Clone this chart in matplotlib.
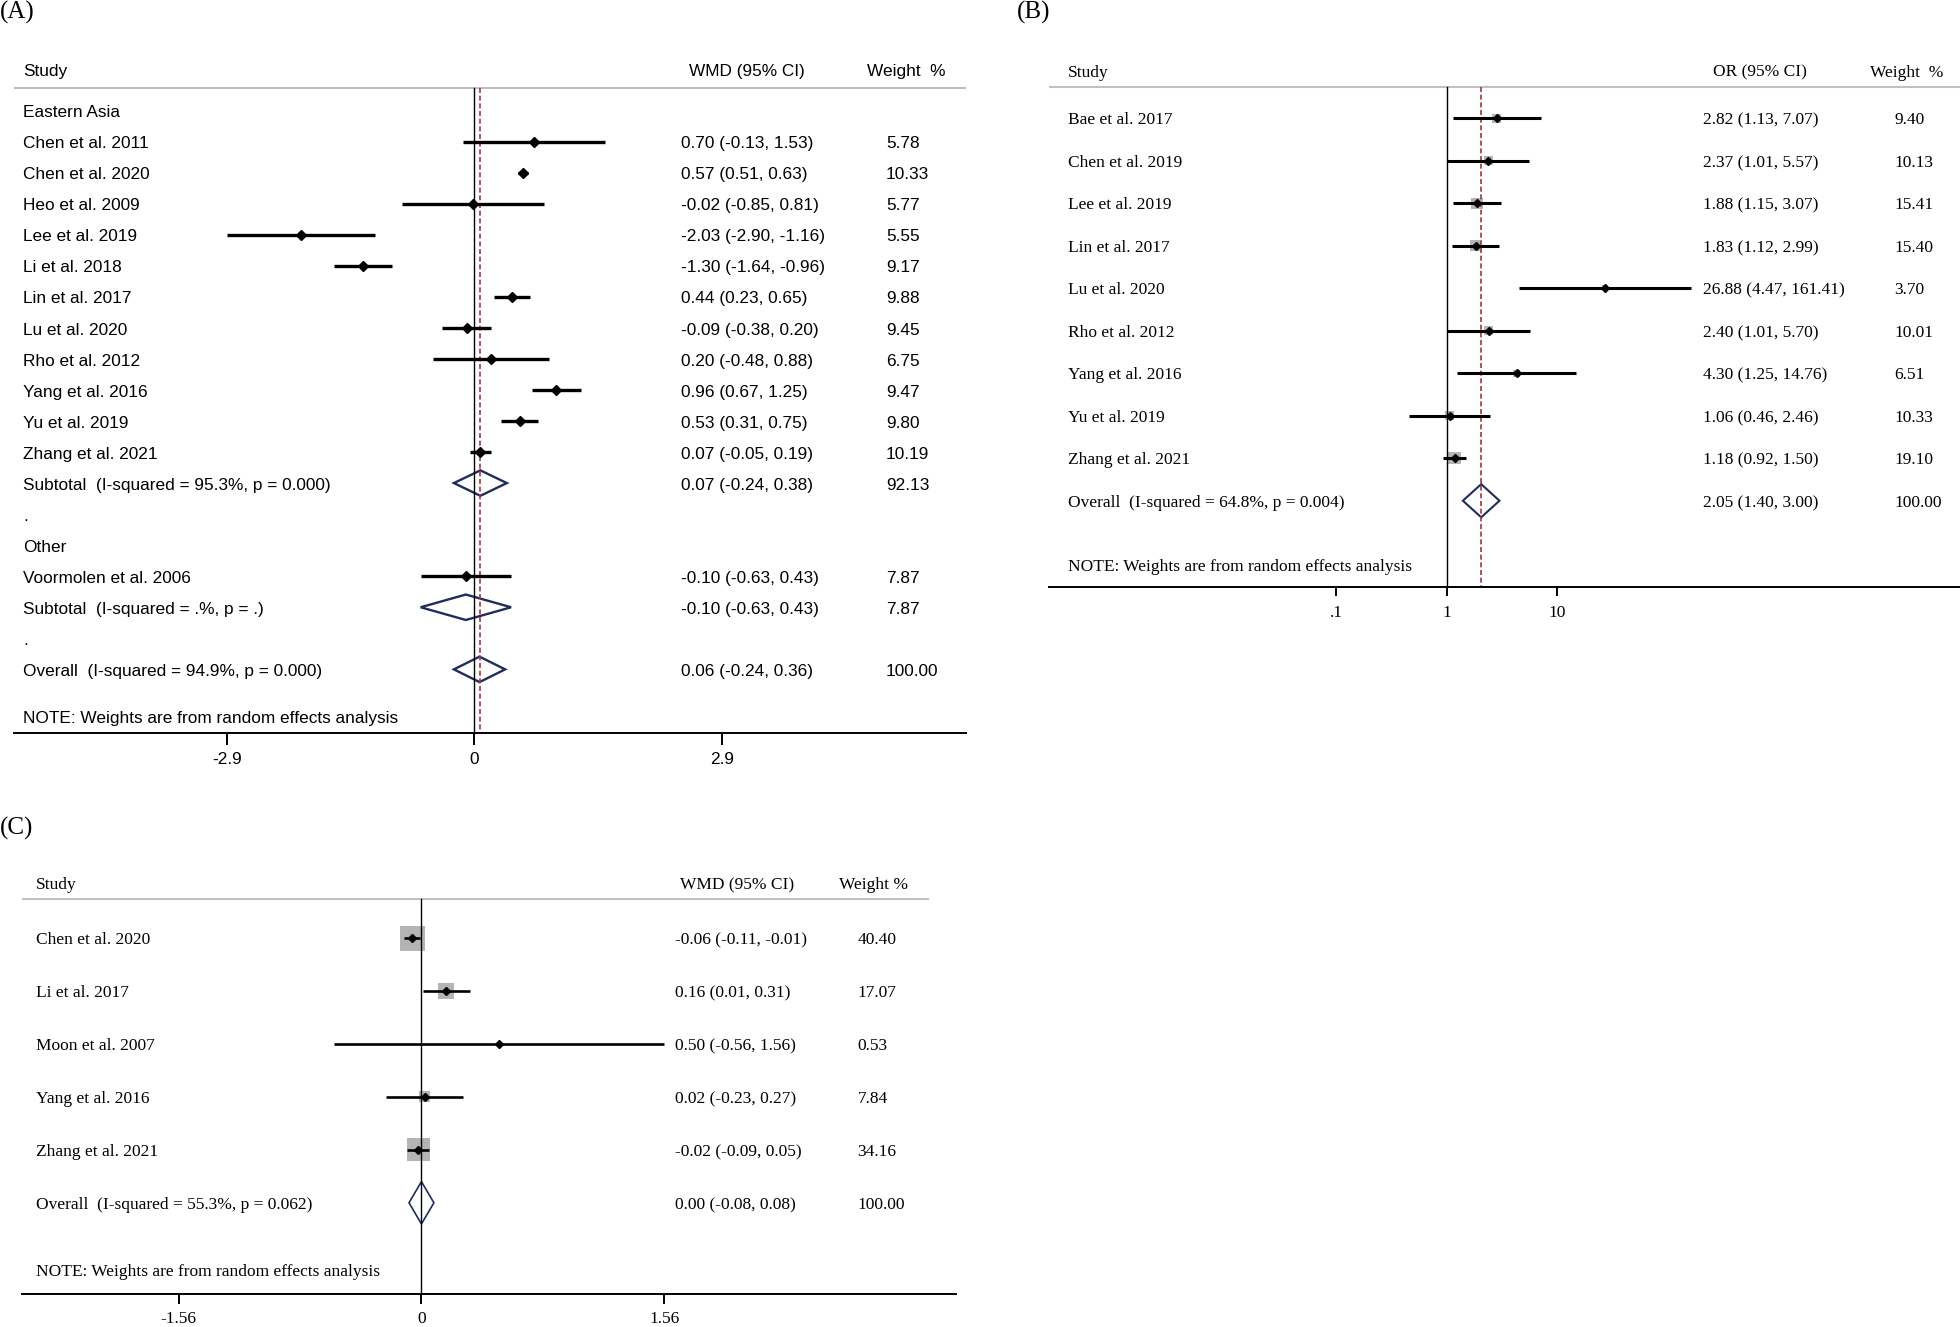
import matplotlib
matplotlib.use("Agg")
import matplotlib.pyplot as plt
import matplotlib.transforms as mtransforms
from matplotlib.patches import Polygon
from matplotlib.ticker import FixedLocator, FixedFormatter, NullLocator
import numpy as np

# ---------------- data ----------------
# Panel A (WMD, subgroups)
group_A1 = "Eastern Asia"
names_A1 = ["Chen et al. 2011", "Chen et al. 2020", "Heo et al. 2009", "Lee et al. 2019",
            "Li et al. 2018", "Lin et al. 2017", "Lu et al. 2020", "Rho et al. 2012",
            "Yang et al. 2016", "Yu et al. 2019", "Zhang et al. 2021"]
est_A1 = [0.70, 0.57, -0.02, -2.03, -1.30, 0.44, -0.09, 0.20, 0.96, 0.53, 0.07]
lo_A1 = [-0.13, 0.51, -0.85, -2.90, -1.64, 0.23, -0.38, -0.48, 0.67, 0.31, -0.05]
hi_A1 = [1.53, 0.63, 0.81, -1.16, -0.96, 0.65, 0.20, 0.88, 1.25, 0.75, 0.19]
w_A1 = [5.78, 10.33, 5.77, 5.55, 9.17, 9.88, 9.45, 6.75, 9.47, 9.80, 10.19]
sub_A1 = (0.07, -0.24, 0.38, 92.13)
sub_A1_label = "Subtotal  (I-squared = 95.3%, p = 0.000)"

group_A2 = "Other"
names_A2 = ["Voormolen et al. 2006"]
est_A2 = [-0.10]
lo_A2 = [-0.63]
hi_A2 = [0.43]
w_A2 = [7.87]
sub_A2 = (-0.10, -0.63, 0.43, 7.87)
sub_A2_label = "Subtotal  (I-squared = .%, p = .)"

overall_A = (0.06, -0.24, 0.36, 100.00)
overall_A_label = "Overall  (I-squared = 94.9%, p = 0.000)"
ticks_A = [-2.9, 0, 2.9]
ticklabels_A = ["-2.9", "0", "2.9"]

# Panel B (OR, log scale)
names_B = ["Bae et al. 2017", "Chen et al. 2019", "Lee et al. 2019", "Lin et al. 2017",
           "Lu et al. 2020", "Rho et al. 2012", "Yang et al. 2016", "Yu et al. 2019",
           "Zhang et al. 2021"]
est_B = [2.82, 2.37, 1.88, 1.83, 26.88, 2.40, 4.30, 1.06, 1.18]
lo_B = [1.13, 1.01, 1.15, 1.12, 4.47, 1.01, 1.25, 0.46, 0.92]
hi_B = [7.07, 5.57, 3.07, 2.99, 161.41, 5.70, 14.76, 2.46, 1.50]
w_B = [9.40, 10.13, 15.41, 15.40, 3.70, 10.01, 6.51, 10.33, 19.10]
overall_B = (2.05, 1.40, 3.00, 100.00)
overall_B_label = "Overall  (I-squared = 64.8%, p = 0.004)"
ticks_B = [0.1, 1, 10]
ticklabels_B = [".1", "1", "10"]

# Panel C (WMD)
names_C = ["Chen et al. 2020", "Li et al. 2017", "Moon et al. 2007", "Yang et al. 2016",
           "Zhang et al. 2021"]
est_C = [-0.06, 0.16, 0.50, 0.02, -0.02]
lo_C = [-0.11, 0.01, -0.56, -0.23, -0.09]
hi_C = [-0.01, 0.31, 1.56, 0.27, 0.05]
w_C = [40.40, 17.07, 0.53, 7.84, 34.16]
overall_C = (0.00, -0.08, 0.08, 100.00)
overall_C_label = "Overall  (I-squared = 55.3%, p = 0.062)"
ticks_C = [-1.56, 0, 1.56]
ticklabels_C = ["-1.56", "0", "1.56"]

note = "NOTE: Weights are from random effects analysis"

# ---------------- style ----------------
W, H, DPI = 1960, 1327, 100
SANS = ['Liberation Sans', 'Arial', 'DejaVu Sans']
SERIF = ['Liberation Serif', 'Times New Roman', 'DejaVu Serif']
NAVY = '#1f2d5c'
RED = '#a8343c'
GRID = '#c0c0c0'
BOX = '#b4b4b4'

fig = plt.figure(figsize=(W / DPI, H / DPI), dpi=DPI)
fig.patch.set_facecolor('white')


def make_ax(x0, x1, ytop, ybot, xlim, ylim, xscale='linear'):
    ax = fig.add_axes([x0 / W, 1 - ybot / H, (x1 - x0) / W, (ybot - ytop) / H])
    ax.set_xscale(xscale)
    ax.set_xlim(*xlim)
    ax.set_ylim(*ylim)
    for s in ['top', 'left', 'right']:
        ax.spines[s].set_visible(False)
    ax.spines['bottom'].set_linewidth(1.4)
    ax.yaxis.set_visible(False)
    ax.patch.set_visible(False)
    return ax


def txt(ax, xpx, row, s, fam, fs):
    tr = mtransforms.blended_transform_factory(fig.transFigure, ax.transData)
    tr = mtransforms.offset_copy(tr, fig=fig, y=-2.2, units='dots')
    ax.text(xpx / W, row, s, transform=tr, family=fam, fontsize=fs,
            va='center', ha='left', clip_on=False)


def hline(ax, x0px, x1px, row, **kw):
    tr = mtransforms.blended_transform_factory(fig.transFigure, ax.transData)
    ax.plot([x0px / W, x1px / W], [row, row], transform=tr, clip_on=False,
            solid_capstyle='butt', **kw)


def diamond(ax, e, l, h, row, hh, lw):
    ax.add_patch(Polygon([(l, row), (e, row - hh), (h, row), (e, row + hh)], closed=True,
                         fill=False, edgecolor=NAVY, lw=lw, joinstyle='miter', clip_on=False))


def ci_text(e, l, h):
    return f"{e:.2f} ({l:.2f}, {h:.2f})"


# ================= Panel A =================
fsA = 12.4
axA = make_ax(13.75, 965.6, 40, 732.7, xlim=(-5.398, 5.756), ylim=(20.04, -2.27))
hdrA = -0.73
hline(axA, 13.75, 965.6, hdrA, color=GRID, lw=1.5)
axA.plot([0, 0], [hdrA, 20.04], color='black', lw=1.0, clip_on=False)
axA.plot([overall_A[0]] * 2, [hdrA, 20.04], color=RED, lw=1.2, ls=(0, (3, 1.6)), clip_on=False)

txt(axA, 23, -1.34, "Study", SANS, fsA)
txt(axA, 689, -1.34, "WMD (95% CI)", SANS, fsA)
txt(axA, 867, -1.34, "Weight  %", SANS, fsA)

XS_A, XC_A, XW_A = 23, 681, 886
txt(axA, XS_A, 0, group_A1, SANS, fsA)
rows_A1 = np.arange(1, 1 + len(names_A1))
axA.hlines(rows_A1, lo_A1, hi_A1, color='black', lw=2.4)
axA.plot(est_A1, rows_A1, 'D', ms=4.8, color='black', lw=0)
for r, n, e, l, h, w in zip(rows_A1, names_A1, est_A1, lo_A1, hi_A1, w_A1):
    txt(axA, XS_A, r, n, SANS, fsA)
    txt(axA, XC_A, r, ci_text(e, l, h), SANS, fsA)
    txt(axA, XW_A, r, f"{w:.2f}", SANS, fsA)
r = 12
diamond(axA, sub_A1[0], sub_A1[1], sub_A1[2], r, 0.41, 1.7)
txt(axA, XS_A, r, sub_A1_label, SANS, fsA)
txt(axA, XC_A, r, ci_text(*sub_A1[:3]), SANS, fsA)
txt(axA, XW_A, r, f"{sub_A1[3]:.2f}", SANS, fsA)
txt(axA, XS_A, 13, ".", SANS, fsA)
txt(axA, XS_A, 14, group_A2, SANS, fsA)
rows_A2 = np.arange(15, 15 + len(names_A2))
axA.hlines(rows_A2, lo_A2, hi_A2, color='black', lw=2.4)
axA.plot(est_A2, rows_A2, 'D', ms=4.8, color='black', lw=0)
for r, n, e, l, h, w in zip(rows_A2, names_A2, est_A2, lo_A2, hi_A2, w_A2):
    txt(axA, XS_A, r, n, SANS, fsA)
    txt(axA, XC_A, r, ci_text(e, l, h), SANS, fsA)
    txt(axA, XW_A, r, f"{w:.2f}", SANS, fsA)
r = 16
diamond(axA, sub_A2[0], sub_A2[1], sub_A2[2], r, 0.41, 1.7)
txt(axA, XS_A, r, sub_A2_label, SANS, fsA)
txt(axA, XC_A, r, ci_text(*sub_A2[:3]), SANS, fsA)
txt(axA, XW_A, r, f"{sub_A2[3]:.2f}", SANS, fsA)
txt(axA, XS_A, 17, ".", SANS, fsA)
r = 18
diamond(axA, overall_A[0], overall_A[1], overall_A[2], r, 0.41, 1.7)
txt(axA, XS_A, r, overall_A_label, SANS, fsA)
txt(axA, XC_A, r, ci_text(*overall_A[:3]), SANS, fsA)
txt(axA, XW_A, r, f"{overall_A[3]:.2f}", SANS, fsA)
txt(axA, XS_A, 19.52, note, SANS, fsA)

axA.set_xticks(ticks_A)
axA.set_xticklabels(ticklabels_A)
axA.tick_params(axis='x', length=8.6, width=1.4, pad=5, labelsize=fsA)
for lb in axA.get_xticklabels():
    lb.set_family(SANS)

# ================= Panel B =================
fsB = 12.5
axB = make_ax(1049, 1960, 40, 587, xlim=(10 ** -3.596, 10 ** 4.641), ylim=(11.03, -1.84),
              xscale='log')
hdrB = -0.744
hline(axB, 1049, 1960, hdrB, color=GRID, lw=1.5)
axB.plot([1, 1], [hdrB, 11.03], color='black', lw=1.0, clip_on=False)
axB.plot([overall_B[0]] * 2, [hdrB, 11.03], color=RED, lw=1.2, ls=(0, (3, 1.6)), clip_on=False)

txt(axB, 1068, -1.12, "Study", SERIF, fsB)
txt(axB, 1713, -1.12, "OR (95% CI)", SERIF, fsB)
txt(axB, 1870, -1.12, "Weight  %", SERIF, fsB)

XS_B, XC_B, XW_B = 1068, 1703, 1894
rows_B = np.arange(len(names_B))
side_B = [2.86 * np.sqrt(w) * 0.72 for w in w_B]
axB.scatter(est_B, rows_B, s=[s ** 2 for s in side_B], marker='s', color=BOX, lw=0, zorder=1)
axB.hlines(rows_B, lo_B, hi_B, color='black', lw=2.2, zorder=2)
axB.plot(est_B, rows_B, 'D', ms=4.2, color='black', lw=0, zorder=3)
for r, n, e, l, h, w in zip(rows_B, names_B, est_B, lo_B, hi_B, w_B):
    txt(axB, XS_B, r, n, SERIF, fsB)
    txt(axB, XC_B, r, ci_text(e, l, h), SERIF, fsB)
    txt(axB, XW_B, r, f"{w:.2f}", SERIF, fsB)
r = len(names_B)
diamond(axB, overall_B[0], overall_B[1], overall_B[2], r, 0.39, 1.5)
txt(axB, XS_B, r, overall_B_label, SERIF, fsB)
txt(axB, XC_B, r, ci_text(*overall_B[:3]), SERIF, fsB)
txt(axB, XW_B, r, f"{overall_B[3]:.2f}", SERIF, fsB)
txt(axB, XS_B, 10.51, note, SERIF, fsB)

axB.xaxis.set_major_locator(FixedLocator(ticks_B))
axB.xaxis.set_major_formatter(FixedFormatter(ticklabels_B))
axB.xaxis.set_minor_locator(NullLocator())
axB.tick_params(axis='x', length=6.5, width=1.4, pad=6.5, labelsize=fsB)
for lb in axB.get_xticklabels():
    lb.set_family(SERIF)

# ================= Panel C =================
fsC = 12.5
axC = make_ax(21.9, 956, 860, 1294.3, xlim=(-2.566, 3.433), ylim=(6.73, -1.48))
hdrC = -0.737
hline(axC, 21.9, 929, hdrC, color=GRID, lw=1.5)
axC.plot([0, 0], [hdrC, 6.73], color='black', lw=1.0, clip_on=False, zorder=2.5)

txt(axC, 36, -1.04, "Study", SERIF, fsC)
txt(axC, 680, -1.04, "WMD (95% CI)", SERIF, fsC)
txt(axC, 839, -1.04, "Weight %", SERIF, fsC)

XS_C, XC_C, XW_C = 36, 675, 857.5
rows_C = np.arange(len(names_C))
side_C = [3.93 * np.sqrt(w) * 0.72 for w in w_C]
axC.scatter(est_C, rows_C, s=[s ** 2 for s in side_C], marker='s', color=BOX, lw=0, zorder=1)
axC.hlines(rows_C, lo_C, hi_C, color='black', lw=1.9, zorder=2)
axC.plot(est_C, rows_C, 'D', ms=4.0, color='black', lw=0, zorder=3)
for r, n, e, l, h, w in zip(rows_C, names_C, est_C, lo_C, hi_C, w_C):
    txt(axC, XS_C, r, n, SERIF, fsC)
    txt(axC, XC_C, r, ci_text(e, l, h), SERIF, fsC)
    txt(axC, XW_C, r, f"{w:.2f}", SERIF, fsC)
r = len(names_C)
diamond(axC, overall_C[0], overall_C[1], overall_C[2], r, 0.40, 1.2)
txt(axC, XS_C, r, overall_C_label, SERIF, fsC)
txt(axC, XC_C, r, ci_text(*overall_C[:3]), SERIF, fsC)
txt(axC, XW_C, r, f"{overall_C[3]:.2f}", SERIF, fsC)
txt(axC, XS_C, 6.27, note, SERIF, fsC)

axC.set_xticks(ticks_C)
axC.set_xticklabels(ticklabels_C)
axC.tick_params(axis='x', length=7.2, width=1.4, pad=5, labelsize=fsC)
for lb in axC.get_xticklabels():
    lb.set_family(SERIF)

# ---------------- panel labels ----------------
fig.text(0 / W, 1 - 12 / H, "(A)", family=SERIF, fontsize=18, va='center', ha='left')
fig.text(1017 / W, 1 - 12 / H, "(B)", family=SERIF, fontsize=18, va='center', ha='left')
fig.text(0 / W, 1 - 828 / H, "(C)", family=SERIF, fontsize=18, va='center', ha='left')

fig.savefig("out.png", dpi=DPI, facecolor='white')
